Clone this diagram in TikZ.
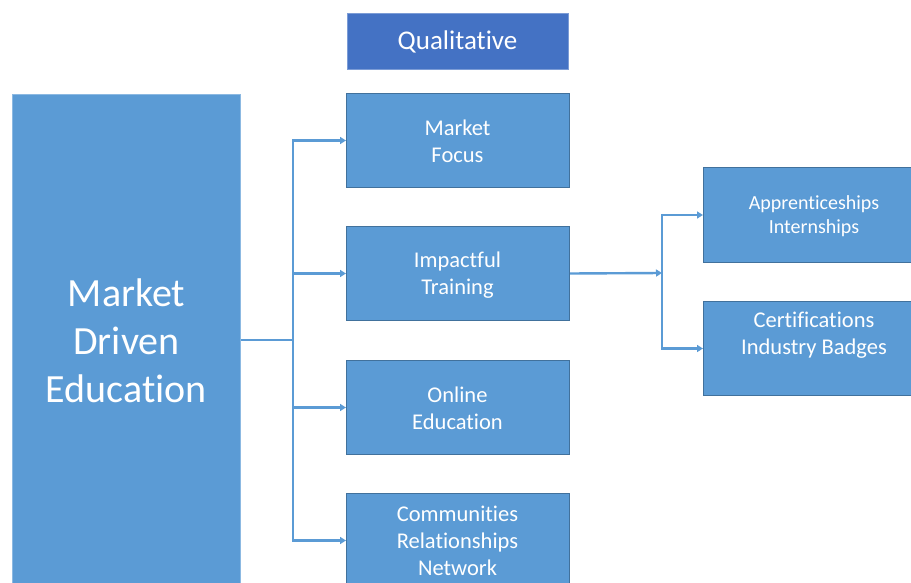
\documentclass[tikz,border=0pt]{standalone}
\usepackage{fontspec}
\setmainfont{Carlito}[Ligatures={NoCommon}]
\usetikzlibrary{arrows.meta}
\definecolor{boxblue}{HTML}{5B9BD5}
\definecolor{edgeblue}{HTML}{41719C}
\definecolor{qualblue}{HTML}{4472C4}
\tikzset{
  x=1pt, y=-1pt,
  box/.style={draw=edgeblue, line width=1pt, fill=boxblue, text=white, align=center, inner sep=0pt, anchor=north west},
  lbl/.style={text=white, align=center, inner sep=0pt},
  mid/.style={font=\fontsize{22.5}{27}\selectfont},
  conn/.style={draw=boxblue, line width=2.4pt},
  arr/.style={conn, -{Triangle[length=6pt,width=7pt]}},
}
\begin{document}
\begin{tikzpicture}
\useasboundingbox (0,0) rectangle (911,583);
\begin{scope}
\clip (0,0) rectangle (911,583);
\node[box, draw=boxblue!70!white, minimum width=228pt, minimum height=492pt, font=\fontsize{40}{48}\selectfont] (big) at (12,94) {Market\\Driven\\Education};
\node[box, fill=qualblue, draw=qualblue!70!white, minimum width=221pt, minimum height=56pt, font=\fontsize{27}{28}\selectfont] (qual) at (347,13) {};
\node[lbl, font=\fontsize{27}{28}\selectfont] (qualt) at (457.5,42) {Qualitative};
\node[box, minimum width=223pt, minimum height=94pt] (mf) at (346,93) {};
\node[lbl, mid] (mft) at (457.5,141) {Market\\Focus};
\node[box, minimum width=223pt, minimum height=94pt] (it) at (346,226) {};
\node[lbl, mid] (itt) at (457.5,275) {Impactful\\Training};
\node[box, minimum width=223pt, minimum height=94pt] (oe) at (346,360) {};
\node[lbl, mid] (oet) at (457.5,408) {Online\\Education};
\node[box, minimum width=223pt, minimum height=94pt] (cr) at (346,493) {};
\node[lbl, mid] (crt) at (457.5,541) {Communities\\Relationships\\Network};
\node[box, minimum width=210pt, minimum height=95pt] (ap) at (703,167) {};
\node[lbl, font=\fontsize{20}{24}\selectfont] (apt) at (814,216) {Apprenticeships\\Internships};
\node[box, minimum width=210pt, minimum height=94pt] (ce) at (703,301) {};
\node[lbl, mid] (cet) at (814,335) {Certifications\\Industry Badges};
\end{scope}
\coordinate (j1) at (293,340);
\coordinate (j2) at (662,273);
\draw[conn] (big.east |- j1) -- (j1);
\draw[conn] (j1) -- (293,140) (j1) -- (293,540);
\draw[arr] (j1) |- (mf.west);
\draw[arr] (j1) |- (it.west);
\draw[arr] (j1) |- (oe.west);
\draw[arr] (j1) |- (cr.west);
\draw[arr] (it.east) -- (j2);
\draw[conn] (662,214) -- (662,348);
\draw[arr] (j2) |- (ap.west);
\draw[arr] (j2) |- (ce.west);
\end{tikzpicture}
\end{document}
